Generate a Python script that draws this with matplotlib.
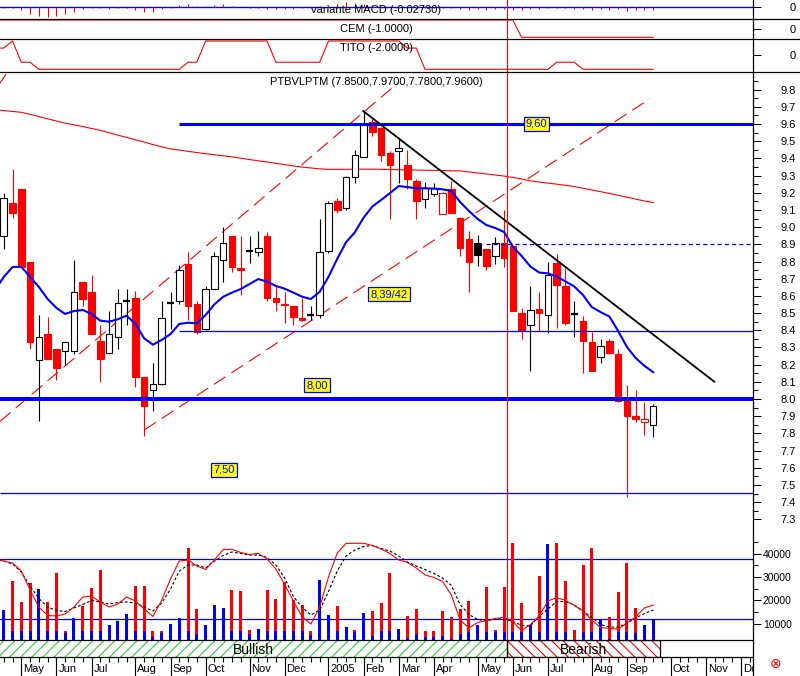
import datetime as dt
import numpy as np
import matplotlib
matplotlib.use("Agg")
import matplotlib.pyplot as plt
from matplotlib.lines import Line2D
from matplotlib.patches import Rectangle

plt.rcParams['font.family'] = ['Liberation Sans', 'DejaVu Sans']
plt.rcParams['lines.scale_dashes'] = False
plt.rcParams['hatch.linewidth'] = 0.8

W, H = 800, 676
AXIS_X = 753          # pixel column of the right axis
PX_WEEK = 8.777       # pixels per weekly bar
PX_T0 = 3.746         # pixel column of the first bar
T_LEFT = -PX_T0 / PX_WEEK
T_RIGHT = (AXIS_X - PX_T0) / PX_WEEK

RED = '#ff0000'
BLUE = '#0000ff'

# weekly bars, the first one is Friday 2004-04-23
first_bar = dt.date(2004, 4, 23)

opens = [8.95, 9.14, 9.22, 8.80, 8.23, 8.38, 8.29, 8.28, 8.28, 8.68,
         8.62, 8.34, 8.27, 8.36, 8.57, 8.59, 8.13, 8.05, 8.09, 8.56,
         8.57, 8.785, 8.55, 8.41, 8.64, 8.81, 8.95, 8.765, 8.86, 8.855,
         8.95, 8.59, 8.55, 8.54, 8.47, 8.49, 8.49, 8.86, 9.15, 9.11,
         9.29, 9.41, 9.61, 9.575, 9.43, 9.44, 9.36, 9.27, 9.165, 9.19,
         9.075, 9.22, 9.055, 8.93, 8.905, 8.87, 8.83, 8.905, 8.89, 8.50,
         8.43, 8.525, 8.49, 8.79, 8.66, 8.495, 8.455, 8.33, 8.245, 8.335,
         8.26, 7.99, 7.90, 7.865, 7.85]
highs = [9.20, 9.34, 9.22, 8.80, 8.49, 8.48, 8.29, 8.33, 8.81, 8.68,
         8.72, 8.43, 8.51, 8.64, 8.64, 8.63, 8.13, 8.21, 8.57, 8.62,
         8.78, 8.855, 8.57, 8.66, 8.855, 9.00, 8.95, 8.95, 8.95, 8.98,
         8.97, 8.66, 8.62, 8.54, 8.59, 8.54, 9.05, 9.15, 9.17, 9.30,
         9.45, 9.675, 9.63, 9.58, 9.44, 9.52, 9.45, 9.28, 9.265, 9.255,
         9.205, 9.27, 9.06, 8.98, 8.955, 8.875, 8.94, 9.10, 8.89, 8.53,
         8.66, 8.62, 8.80, 8.845, 8.76, 8.57, 8.485, 8.39, 8.35, 8.35,
         8.29, 8.08, 8.05, 7.985, 7.97]
lows = [8.87, 9.055, 8.77, 8.29, 7.875, 8.235, 8.11, 8.20, 8.26, 8.54,
        8.38, 8.10, 8.26, 8.29, 8.43, 8.07, 7.785, 7.93, 8.08, 8.41,
        8.55, 8.46, 8.38, 8.40, 8.64, 8.68, 8.74, 8.605, 8.79, 8.83,
        8.57, 8.51, 8.44, 8.43, 8.455, 8.46, 8.47, 8.85, 9.085, 9.10,
        9.255, 9.41, 9.53, 9.385, 9.045, 9.255, 9.22, 9.05, 9.11, 9.18,
        9.075, 9.08, 8.83, 8.62, 8.775, 8.75, 8.785, 8.77, 8.51, 8.35,
        8.165, 8.395, 8.385, 8.415, 8.43, 8.36, 8.15, 8.165, 8.21, 8.26,
        7.98, 7.43, 7.865, 7.79, 7.78]
closes = [9.17, 9.08, 8.77, 8.33, 8.36, 8.235, 8.18, 8.33, 8.62, 8.58,
          8.38, 8.235, 8.38, 8.56, 8.57, 8.13, 7.96, 8.09, 8.47, 8.56,
          8.75, 8.54, 8.39, 8.64, 8.83, 8.91, 8.77, 8.75, 8.86, 8.88,
          8.59, 8.565, 8.545, 8.475, 8.46, 8.49, 8.855, 9.14, 9.10, 9.29,
          9.42, 9.60, 9.555, 9.42, 9.36, 9.46, 9.28, 9.15, 9.225, 9.23,
          9.20, 9.085, 8.88, 8.80, 8.835, 8.775, 8.91, 8.82, 8.515, 8.395,
          8.52, 8.50, 8.72, 8.665, 8.445, 8.495, 8.335, 8.165, 8.31, 8.265,
          7.99, 7.90, 7.885, 7.885, 7.96]

# weekly volume, two overlaid series
vol_red = [0, 28415, 19415, 27560, 0, 19415, 31590, 6990, 0, 17570,
           25290, 32870, 0, 0, 0, 26140, 26140, 6990, 6990, 0,
           0, 42560, 16290, 0, 0, 0, 24430, 24000, 7290, 0,
           24430, 20570, 27730, 20140, 18000, 6990, 0, 0, 17570, 0,
           7290, 0, 15430, 18990, 31590, 0, 13290, 16160, 6990, 6990,
           15430, 12730, 16160, 19720, 0, 25590, 7290, 25590, 44700, 18990,
           0, 30430, 0, 44700, 28415, 7290, 35150, 42560, 0, 12730,
           23700, 35870, 16840, 0, 0]
vol_blue = [15860, 6860, 6860, 6860, 24860, 6860, 6860, 5870, 12430, 6860,
            6860, 6860, 9430, 11270, 14140, 6860, 6860, 4410, 6130, 9730,
            12430, 6860, 5570, 9300, 18000, 16720, 6860, 6860, 5440, 7590,
            6860, 6860, 6860, 6860, 6860, 5140, 28720, 13720, 6860, 8700,
            6600, 14440, 4710, 6860, 6860, 7840, 3860, 5570, 4160, 4410,
            4710, 3430, 5440, 6560, 9430, 6560, 6560, 6560, 6560, 6560,
            9430, 6560, 44150, 6560, 6560, 0, 6560, 6560, 11870, 3300,
            6560, 6560, 5870, 9430, 11870]

# lines below start one week before the first bar
ma_short = [8.634, 8.710, 8.768, 8.770, 8.710, 8.652, 8.582, 8.530, 8.495, 8.512,
            8.518, 8.495, 8.456, 8.450, 8.464, 8.485, 8.437, 8.353, 8.316, 8.344,
            8.378, 8.437, 8.444, 8.441, 8.489, 8.551, 8.595, 8.619, 8.640, 8.669,
            8.698, 8.683, 8.658, 8.642, 8.619, 8.595, 8.582, 8.624, 8.711, 8.816,
            8.912, 8.970, 9.055, 9.120, 9.158, 9.198, 9.239, 9.233, 9.226, 9.226,
            9.224, 9.220, 9.210, 9.146, 9.094, 9.047, 9.012, 8.995, 8.972, 8.887,
            8.832, 8.771, 8.736, 8.731, 8.713, 8.684, 8.655, 8.605, 8.535, 8.506,
            8.480, 8.396, 8.303, 8.239, 8.193, 8.156]
ma_long = [9.683, 9.678, 9.673, 9.668, 9.656, 9.643, 9.630, 9.617, 9.605, 9.595,
           9.585, 9.574, 9.563, 9.549, 9.535, 9.522, 9.508, 9.495, 9.480, 9.467,
           9.455, 9.448, 9.441, 9.434, 9.427, 9.421, 9.415, 9.409, 9.401, 9.393,
           9.386, 9.379, 9.371, 9.364, 9.356, 9.349, 9.344, 9.339, 9.336, 9.336,
           9.336, 9.337, 9.337, 9.337, 9.336, 9.335, 9.334, 9.333, 9.332, 9.331,
           9.330, 9.329, 9.328, 9.327, 9.321, 9.315, 9.309, 9.303, 9.297, 9.289,
           9.280, 9.269, 9.262, 9.256, 9.250, 9.243, 9.236, 9.226, 9.216, 9.206,
           9.196, 9.185, 9.174, 9.163, 9.152, 9.143]
vol_ma_fast = [37700, 36860, 36000, 32570, 24430, 17140, 13500, 13290, 14140, 17140,
               21430, 21860, 19290, 17140, 18430, 21430, 19720, 16290, 13070, 20140,
               29140, 36860, 37290, 34720, 33220, 37290, 41790, 41870, 40500, 39650,
               40160, 37720, 33430, 26790, 19720, 12860, 9860, 17140, 30000, 40290,
               44360, 44450, 44450, 43500, 42000, 40070, 37290, 36220, 33860, 30860,
               29790, 28070, 22290, 11570, 8140, 10500, 11270, 12220, 12730, 10930,
               6990, 9640, 13290, 19720, 21130, 20020, 17790, 15430, 11570, 8270,
               8010, 7590, 10290, 12860, 16720, 18000]
vol_ma_slow = [37500, 36860, 35570, 32150, 26140, 20790, 17140, 15640, 15220, 16720,
               18220, 19930, 19290, 18430, 19070, 19290, 18770, 17140, 15430, 18860,
               24860, 32570, 35150, 35150, 33860, 36860, 39220, 40720, 40070, 39430,
               39430, 38360, 35150, 29570, 21640, 16930, 13720, 15860, 23790, 32570,
               39000, 41570, 43070, 43500, 42220, 41150, 39000, 36430, 34720, 33220,
               31500, 29570, 26360, 18220, 13930, 11790, 11270, 12000, 12000, 10930,
               9300, 9000, 13160, 16290, 19500, 19420, 18000, 15430, 12640, 9640,
               8570, 8440, 10160, 12430, 14360, 15860]
cem = [1, 1, 1, 1, 1, 1, 1, 1, 1, 1, 1, 1, 1, 1, 1, 1, 1, 1, 1, 1,
       1, 1, 1, 1, 1, 1, 1, 1, 1, 1, 1, 1, 1, 1, 1, 1, 1, 1, 1, 1,
       1, 1, 1, 1, 1, 1, 1, 1, 1, 1, 1, 1, 1, 1, 1, 1, 1, 1, 1, 1,
       -1, -1, -1, -1, -1, -1, -1, -1, -1, -1, -1, -1, -1, -1, -1, -1]
tito = [1, 1, 2, -1, -1, -2, -2, -2, -2, -2, -2, -2, -2, -2, -2, -2, -2, -2, -2, -2,
        -2, -2, -1, -1, 2, 2, 2, 2, 2, 2, 2, 2, -1, -1, -1, -1, -1, -1, 2, 2,
        2, 2, 2, 2, 2, 2, 2, 1, 1, -2, -2, -2, -2, -2, -2, -2, -2, -2, -2, -2,
        -2, -2, -2, -2, -1, -1, -1, -2, -2, -2, -2, -2, -2, -2, -2, -2]
# MACD histogram, same weeks as the bars
macd_hist = [-0.005, -0.01, -0.027, -0.07, -0.083, -0.093, -0.083, -0.067, -0.043, -0.02,
             -0.01, -0.01, -0.015, -0.01, -0.005, -0.027, -0.043, -0.043, -0.02, -0.005,
             0.02, 0.03, 0.015, 0.01, 0.02, 0.03, 0.015, 0.005, -0.005, -0.01,
             -0.015, -0.02, -0.02, -0.015, -0.01, -0.005, 0.01, 0.02, 0.03, 0.05,
             0.04, 0.03, 0.02, 0.01, 0.005, -0.005, -0.01, -0.015, -0.01, -0.01,
             -0.005, -0.01, -0.02, -0.025, -0.02, -0.025, -0.02, -0.015, -0.03, -0.03,
             -0.02, -0.015, -0.01, -0.005, -0.01, -0.015, -0.02, -0.03, -0.02, -0.025,
             -0.02, -0.035, -0.03, -0.025, -0.027]

# drawn studies: (week, price) end points
trend_down = ([40.96, 80.96], [9.675, 8.101])
channel_low = ([16.01, 73.63], [7.820, 9.747])
channel_high = ([-0.43, 44.92], [7.870, 9.839])
channel_old = ([-0.43, 0.26], [9.838, 9.890])
levels = [9.60, 8.00, 8.395, 7.454]
level_start = [20, T_LEFT, 20, T_LEFT]
level_dash = 8.90
level_dash_start = 55
vol_levels = [37720, 12000]
signal_week = 57.37
bear_end = 74.77

fig = plt.figure(figsize=(8, 6.76), dpi=100)
fig.patch.set_facecolor('white')


def rect(top, bottom):
    return [0, 1 - bottom / H, AXIS_X / W, (bottom - top) / H]


def fig_line(x0, y0, x1, y1, **kw):
    fig.add_artist(Line2D([x0 / W, x1 / W], [1 - y0 / H, 1 - y1 / H],
                          transform=fig.transFigure, **kw))


ax_macd = fig.add_axes(rect(0, 18.5))
ax_cem = fig.add_axes(rect(18.5, 39))
ax_tito = fig.add_axes(rect(39, 72.4))
ax_main = fig.add_axes(rect(72.4, 528))
ax_vol = fig.add_axes(rect(528, 640))
ax_band = fig.add_axes(rect(640, 657))
ax_time = fig.add_axes(rect(657, 676))

for ax in (ax_macd, ax_cem, ax_tito, ax_main, ax_vol, ax_band, ax_time):
    ax.set_xlim(T_LEFT, T_RIGHT)
    for s in ax.spines.values():
        s.set_visible(False)
    ax.set_xticks([])
    ax.yaxis.tick_right()
    ax.patch.set_alpha(0)
    ax.tick_params(axis='y', which='both', direction='out', width=0.75, colors='black')

n = len(opens)
t = np.arange(n)
t_ma = np.arange(-1, n)
o = np.array(opens)
h = np.array(highs)
l = np.array(lows)
c = np.array(closes)
prev = np.r_[-np.inf, c[:-1]]

# ---- MACD panel
ax_macd.set_ylim(-0.112, 0.073)
ax_macd.axhline(0, color=BLUE, lw=1.0)
ax_macd.vlines(t, 0, macd_hist, color=RED, lw=0.8)
ax_macd.axvline(signal_week, color=RED, lw=0.8)
ax_macd.set_yticks([0])
ax_macd.set_yticklabels(['0'])
ax_macd.tick_params(axis='y', length=5.5, pad=21, labelsize=8)
ax_macd.text(0.5, 0.45, 'variante MACD (-0.02730)', transform=ax_macd.transAxes,
             ha='center', va='center', fontsize=8)

# ---- CEM panel
ax_cem.set_ylim(-1.197, 1.173)
ax_cem.plot(t_ma, cem, color=RED, lw=0.8)
ax_cem.axvline(signal_week, color=RED, lw=0.8)
ax_cem.set_yticks([0])
ax_cem.set_yticklabels(['0'])
ax_cem.tick_params(axis='y', length=5.5, pad=21, labelsize=8)
ax_cem.text(0.5, 0.48, 'CEM (-1.0000)', transform=ax_cem.transAxes,
            ha='center', va='center', fontsize=8)

# ---- TITO panel
ax_tito.set_ylim(-2.438, 2.283)
ax_tito.plot(t_ma, tito, color=RED, lw=0.8)
ax_tito.axvline(signal_week, color=RED, lw=0.8)
ax_tito.set_yticks([0])
ax_tito.set_yticklabels(['0'])
ax_tito.tick_params(axis='y', length=5.5, pad=21, labelsize=8)
ax_tito.text(0.5, 0.73, 'TITO (-2.0000)', transform=ax_tito.transAxes,
             ha='center', va='center', fontsize=8)

# ---- price panel
ax = ax_main
ax.set_ylim(7.25, 9.9)
ax.plot(t_ma, ma_long, color=RED, lw=0.8, zorder=1)
for xs, ys in (channel_low, channel_high, channel_old):
    ax.plot(xs, ys, color=RED, lw=0.8, dashes=(10, 5), zorder=1)

for i in range(n):
    col = 'black' if c[i] > prev[i] else RED
    ax.vlines(t[i], l[i], h[i], color=col, lw=0.8, zorder=3)
    if abs(c[i] - o[i]) < 0.004:
        ax.hlines(c[i], t[i] - 0.4, t[i] + 0.4, color=col, lw=1.6, zorder=4)
    else:
        lo, hi = min(o[i], c[i]), max(o[i], c[i])
        fc = col if c[i] < o[i] else 'white'
        ax.add_patch(Rectangle((t[i] - 0.37, lo), 0.74, hi - lo, fc=fc, ec=col,
                               lw=0.8, zorder=4))

for lev, st, lw in zip(levels, level_start, [2.2, 2.9, 0.9, 0.9]):
    ax.hlines(lev, st, T_RIGHT, color=BLUE, lw=lw, zorder=5)
ax.hlines(level_dash, level_dash_start, T_RIGHT, color=BLUE, lw=0.9,
          linestyles=(0, (3, 2.2)), zorder=5)
ax.plot(t_ma, ma_short, color=BLUE, lw=1.5, zorder=6)
ax.plot(*trend_down, color='black', lw=1.3, zorder=7)
ax.axvline(signal_week, color=RED, lw=0.8, zorder=7)

box = dict(boxstyle='square,pad=0.18', fc='yellow', ec=BLUE, lw=0.9)
for tx, ty, s in ((60.72, 9.60, '9,60'), (35.69, 8.08, '8,00'),
                  (43.89, 8.611, '8,39/42'), (25.09, 7.588, '7,50')):
    ax.text(tx, ty, s, ha='center', va='center', fontsize=8, color=BLUE,
            bbox=box, zorder=8)

ax.set_yticks(np.round(np.arange(7.3, 9.85, 0.1), 1))
ax.set_yticklabels([f'{v:.1f}' for v in np.arange(7.3, 9.85, 0.1)])
ax.set_yticks(np.arange(7.35, 9.9, 0.1), minor=True)
ax.tick_params(axis='y', which='major', length=5.5, pad=14, labelsize=8)
ax.tick_params(axis='y', which='minor', length=3.5)

# ---- volume panel
ax = ax_vol
ax.set_ylim(3000, 51000)
ax.bar(t, vol_red, width=0.34, color=RED, zorder=2)
ax.bar(t, vol_blue, width=0.34, color=BLUE, zorder=3)
for v in vol_levels:
    ax.axhline(v, color=BLUE, lw=0.9, zorder=1)
ax.plot(t_ma, vol_ma_slow, color='black', lw=0.8, dashes=(2, 1.5), zorder=4)
ax.plot(t_ma, vol_ma_fast, color=RED, lw=0.8, zorder=5)
ax.axvline(signal_week, color=RED, lw=0.8, zorder=6)
ax.set_yticks([10000, 20000, 30000, 40000])
ax.set_yticklabels(['10000', '20000', '30000', '40000'])
ax.set_yticks([15000, 25000, 35000, 45000], minor=True)
ax.tick_params(axis='y', which='major', length=5.5, pad=1.5, labelsize=7.5)
ax.tick_params(axis='y', which='minor', length=3.5)

# ---- bullish / bearish band
ax = ax_band
ax.set_ylim(0, 1)
ax.set_yticks([])
ax.add_patch(Rectangle((T_LEFT, 0), signal_week - T_LEFT, 1, fill=False,
                       hatch='///', ec='#33cc33', lw=0))
ax.add_patch(Rectangle((signal_week, 0), bear_end - signal_week, 1, fill=False,
                       hatch='\\\\\\', ec=RED, lw=0))
ax.add_patch(Rectangle((signal_week, 0), bear_end - signal_week, 1, fill=False,
                       ec='black', lw=0.9))
ax.axvline(signal_week, color='black', lw=0.9)
ax.text(28.4, 0.42, 'Bullish', ha='center', va='center', fontsize=10)
ax.text(66.0, 0.42, 'Bearish', ha='center', va='center', fontsize=10)

# ---- month axis
ax = ax_time
ax.set_ylim(19, 0)
ax.set_yticks([])
ax.vlines(np.arange(0, 86), 0, 5, color='black', lw=0.8)
month_names = ['Jan', 'Feb', 'Mar', 'Apr', 'May', 'Jun', 'Jul', 'Aug',
               'Sep', 'Oct', 'Nov', 'Dec']
months = [(2004, m) for m in range(5, 13)] + [(2005, m) for m in range(1, 13)]
for yr, m in months:
    d = dt.date(yr, m, 1)
    while d.weekday() != 4:
        d += dt.timedelta(days=1)
    tm = (d - first_bar).days / 7
    lab = str(yr) if m == 1 else month_names[m - 1]
    ax.vlines(tm, 0, 19, color='black', lw=0.8)
    ax.text(tm + 0.22, 15.5, lab, ha='left', va='baseline', fontsize=8, clip_on=True)

# frame lines
fig_line(AXIS_X, 0, AXIS_X, H, color='black', lw=0.9)
for y in (18.5, 39, 72.4):
    fig_line(0, y, W, y, color='black', lw=0.9)
fig_line(0, 640, AXIS_X, 640, color='black', lw=0.9)
fig_line(0, 657, AXIS_X, 657, color='black', lw=0.9)

fig.text(376 / W, 1 - 82 / H, 'PTBVLPTM (7.8500,7.9700,7.7800,7.9600)',
         ha='center', va='center', fontsize=8)
fig.text(776 / W, 1 - 664 / H, '\u2297', ha='center', va='center', fontsize=10,
         color=RED, family=['DejaVu Sans'])

fig.savefig('out.png', dpi=100)
